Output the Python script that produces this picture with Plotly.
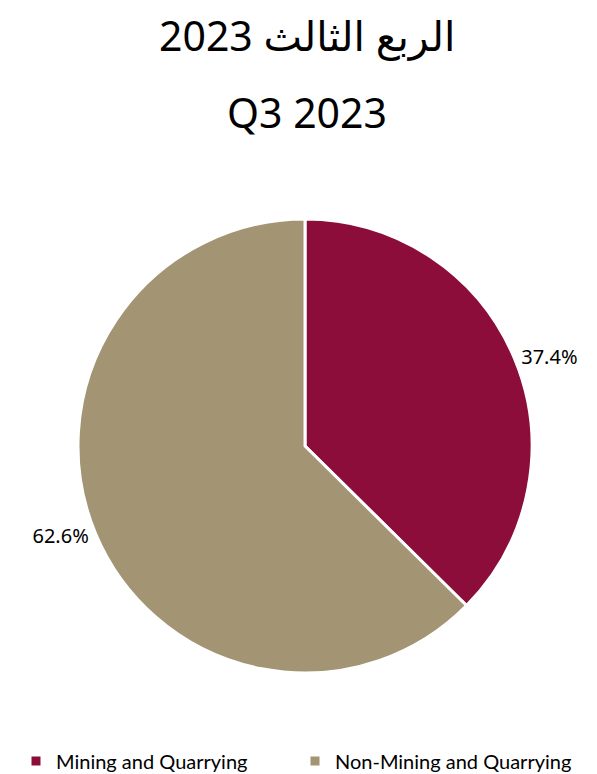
import plotly.graph_objects as go

categories = ["Mining and Quarrying", "Non-Mining and Quarrying"]
values = [37.4, 62.6]
colors = ["#8C0C3A", "#A39473"]
title_ar = "الربع الثالث 2023"
title_en = "Q3 2023"

W, H = 597, 774

fig = go.Figure(go.Pie(
    labels=categories,
    values=values,
    marker=dict(colors=colors, line=dict(color="white", width=3)),
    sort=False,
    direction="clockwise",
    rotation=0,
    textinfo="percent",
    texttemplate="%{value:.1f}%",
    textposition="outside",
    textfont=dict(family="Noto Sans, Open Sans, sans-serif", size=20, color="#000000"),
    hoverinfo="label+percent",
    domain=dict(x=[70 / W, 524 / W], y=[109 / H, 563 / H]),
))

fig.update_layout(
    width=W, height=H,
    margin=dict(l=0, r=0, t=0, b=0),
    paper_bgcolor="white",
    plot_bgcolor="white",
    showlegend=True,
    legend=dict(
        orientation="h",
        x=8 / W, xanchor="left",
        y=21 / H, yanchor="middle",
        font=dict(family="Lato, Noto Sans, sans-serif", size=20, color="#000000"),
        itemwidth=30,
        entrywidth=234,
        entrywidthmode="pixels",
        traceorder="normal",
    ),
    annotations=[
        dict(text=title_ar, x=0.5, y=1 - 27 / H, xref="paper", yref="paper",
             showarrow=False, xanchor="center", yanchor="middle",
             font=dict(family="Noto Sans, DejaVu Sans, sans-serif", size=41, color="#000000")),
        dict(text=title_en, x=0.5, y=1 - 104 / H, xref="paper", yref="paper",
             showarrow=False, xanchor="center", yanchor="middle",
             font=dict(family="Noto Sans, DejaVu Sans, sans-serif", size=41, color="#000000")),
    ],
)

fig.write_html("out.html")
